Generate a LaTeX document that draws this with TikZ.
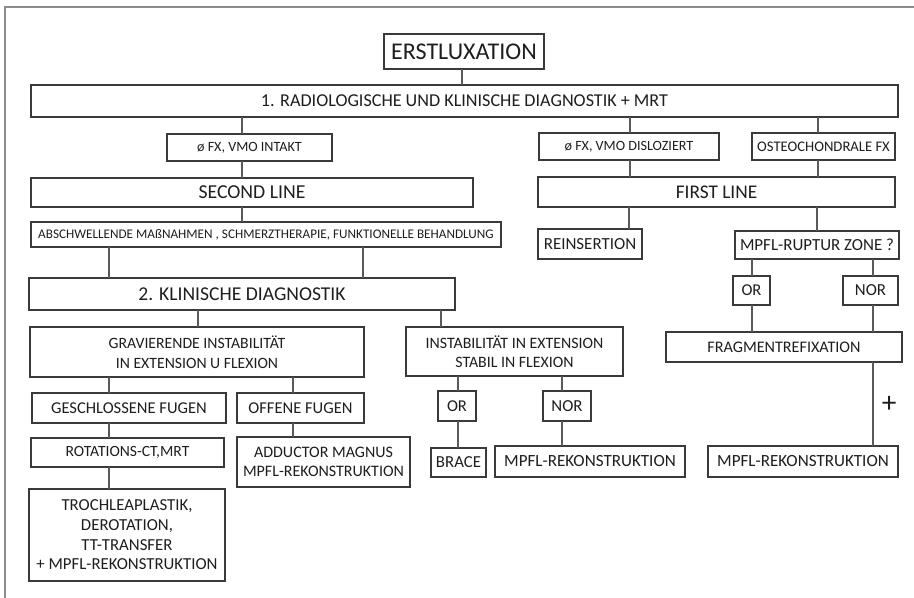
\documentclass[tikz,border=0pt]{standalone}
\usepackage{fontspec}
\setmainfont{Carlito}
\definecolor{boxline}{HTML}{3A3A3A}
\definecolor{connline}{HTML}{5A5A5A}
\definecolor{txt}{HTML}{1E1E1E}
\definecolor{frameline}{HTML}{8C8C8C}
\newcommand\bx[7]{\node[box,font={\fontsize{#6}{14.7}\selectfont},minimum width={(#4-#2)*0.75pt},minimum height={(#5-#3)*0.75pt}] (#1) at ({(#2+#4)/2},{(#3+#5)/2}) {#7};}
\tikzset{
  box/.style={draw=boxline,line width=0.9pt,rectangle,inner sep=0pt,outer sep=0pt,text=txt,align=center,fill=white},
  conn/.style={draw=connline,line width=0.8pt},
}
\begin{document}
\begin{tikzpicture}[x=0.75pt,y=-0.75pt]
\useasboundingbox (0,0) rectangle (914,598);
\fill[white] (0,0) rectangle (914,598);
\draw[frameline,line width=1.5pt] (914,7) -- (5,7) -- (5,598);

\bx{er}{384}{34}{544}{69}{18}{ERSTLUXATION}
\bx{rad}{31}{85}{898}{117}{13.6}{1. RADIOLOGISCHE UND KLINISCHE DIAGNOSTIK + MRT}
\bx{vmoi}{167}{134}{332}{161}{10.6}{ø FX, VMO INTAKT}
\bx{vmod}{539}{133}{719}{160}{10.6}{ø FX, VMO DISLOZIERT}
\bx{osteo}{752}{133}{895}{160}{11}{OSTEOCHONDRALE FX}
\bx{second}{31}{178}{473}{207}{14.8}{SECOND LINE}
\bx{first}{538}{177}{895}{207}{14.5}{FIRST LINE}
\bx{absch}{31}{222}{501}{247}{9.9}{ABSCHWELLENDE MAßNAHMEN , SCHMERZTHERAPIE, FUNKTIONELLE BEHANDLUNG}
\bx{reins}{538}{229}{642}{259}{12.7}{REINSERTION}
\bx{mpflr}{735}{231}{899}{259}{12.7}{MPFL-RUPTUR ZONE ?}
\bx{kd}{29}{278}{455}{310}{14.7}{2. KLINISCHE DIAGNOSTIK}
\bx{orb}{733}{276}{770}{305}{12.4}{OR}
\bx{norb}{843}{276}{898}{305}{12.6}{NOR}
\bx{frag}{666}{332}{902}{362}{12.1}{FRAGMENTREFIXATION}
\bx{grav}{30}{327}{364}{377}{11.8}{GRAVIERENDE INSTABILITÄT\\IN EXTENSION U FLEXION}
\bx{inst}{406}{327}{623}{376}{11.9}{INSTABILITÄT IN EXTENSION\\STABIL IN FLEXION}
\bx{gesch}{32}{393}{226}{423}{12.4}{GESCHLOSSENE FUGEN}
\bx{offen}{237}{393}{364}{423}{12.4}{OFFENE FUGEN}
\bx{rot}{31}{438}{224}{467}{11.7}{ROTATIONS-CT,MRT}
\bx{add}{237}{437}{410}{487}{12}{ADDUCTOR MAGNUS\\MPFL-REKONSTRUKTION}
\bx{troch}{29}{489}{225}{581}{12.6}{TROCHLEAPLASTIK,\\DEROTATION,\\TT-TRANSFER\\+ MPFL-REKONSTRUKTION}
\bx{ora}{438}{391}{476}{421}{12.4}{OR}
\bx{nora}{543}{391}{591}{421}{12.6}{NOR}
\bx{brace}{431}{448}{486}{477}{12.6}{BRACE}
\bx{mpflb}{495}{446}{685}{477}{12.8}{MPFL-REKONSTRUKTION}
\bx{mpflc}{708}{446}{898}{477}{12.8}{MPFL-REKONSTRUKTION}

\draw[conn] (er.south -| 462,0) -- (rad.north -| 462,0);
\draw[conn] (rad.south -| 242,0) -- (vmoi.north -| 242,0);
\draw[conn] (vmoi.south -| 242,0) -- (second.north -| 242,0);
\draw[conn] (rad.south -| 630,0) -- (vmod.north -| 630,0);
\draw[conn] (rad.south -| 818,0) -- (osteo.north -| 818,0);
\draw[conn] (vmod.south -| 630,0) -- (first.north -| 630,0);
\draw[conn] (osteo.south -| 818,0) -- (first.north -| 818,0);
\draw[conn] (second.south -| 242,0) -- (absch.north -| 242,0);
\draw[conn] (absch.south -| 109,0) -- (kd.north -| 109,0);
\draw[conn] (absch.south -| 363,0) -- (kd.north -| 363,0);
\draw[conn] (kd.south -| 198,0) -- (grav.north -| 198,0);
\draw[conn] (kd.south -| 441,0) -- (inst.north -| 441,0);
\draw[conn] (first.south -| 629,0) -- (reins.north -| 629,0);
\draw[conn] (first.south -| 817,0) -- (mpflr.north -| 817,0);
\draw[conn] (mpflr.south -| 752,0) -- (orb.north -| 752,0);
\draw[conn] (mpflr.south -| 873,0) -- (norb.north -| 873,0);
\draw[conn] (orb.south -| 752,0) -- (frag.north -| 752,0);
\draw[conn] (norb.south -| 873,0) -- (frag.north -| 873,0);
\draw[conn] (frag.south -| 873,0) -- node[pos=0.5,right=3pt,text=txt,font=\fontsize{22}{24}\selectfont] (plus) {+} (mpflc.north -| 873,0);
\draw[conn] (grav.south -| 109,0) -- (gesch.north -| 109,0);
\draw[conn] (grav.south -| 293,0) -- (offen.north -| 293,0);
\draw[conn] (gesch.south -| 109,0) -- (rot.north -| 109,0);
\draw[conn] (rot.south -| 109,0) -- (troch.north -| 109,0);
\draw[conn] (offen.south -| 293,0) -- (add.north -| 293,0);
\draw[conn] (inst.south -| 458,0) -- (ora.north -| 458,0);
\draw[conn] (inst.south -| 562,0) -- (nora.north -| 562,0);
\draw[conn] (ora.south -| 458,0) -- (brace.north -| 458,0);
\draw[conn] (nora.south -| 562,0) -- (mpflb.north -| 562,0);
\end{tikzpicture}
\end{document}
